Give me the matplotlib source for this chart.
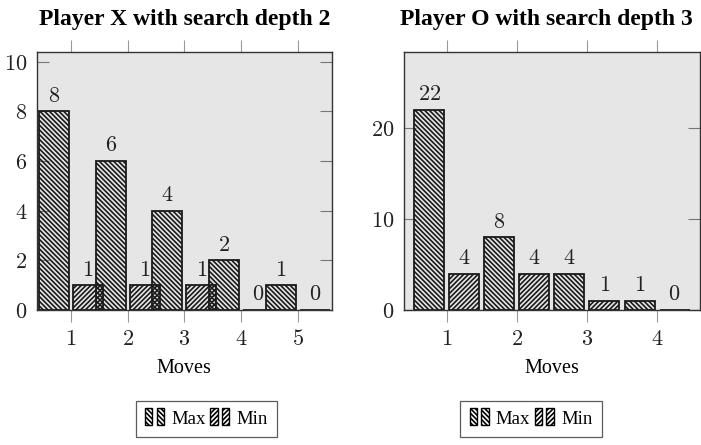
import matplotlib
matplotlib.use("Agg")
import matplotlib.pyplot as plt
from matplotlib.patches import Rectangle
from matplotlib.legend_handler import HandlerBase
from matplotlib.ticker import FuncFormatter
from matplotlib.container import BarContainer

# ---- data ----
moves_x = [1, 2, 3, 4, 5]
max_x = [8, 6, 4, 2, 1]
min_x = [1, 1, 1, 0, 0]

moves_o = [1, 2, 3, 4]
max_o = [22, 8, 4, 1]
min_o = [4, 4, 1, 0]

titles = ["Player X with search depth 2", "Player O with search depth 3"]
xlabel = "Moves"
series_names = ["Max", "Min"]

plt.rcParams['mathtext.fontset'] = 'cm'
plt.rcParams['hatch.linewidth'] = 1.2
plt.rcParams['hatch.color'] = '#222222'

fig = plt.figure(figsize=(7.01, 4.45), dpi=100)
H = 445.0
W = 701.0
ax_bottom = 1 - 310 / H
ax_h = (310 - 51.7) / H
axL = fig.add_axes([36.7 / W, ax_bottom, (332 - 36.7) / W, ax_h])
axR = fig.add_axes([404.3 / W, ax_bottom, (699.5 - 404.3) / W, ax_h])

BG = '#e6e6e6'
HATCH_MAX = '\\' * 7
HATCH_MIN = '/' * 7


class TwoBarHandler(HandlerBase):
    def create_artists(self, legend, orig_handle, xdescent, ydescent,
                       width, height, fontsize, trans):
        patch = orig_handle.patches[0]
        hatch = patch.get_hatch()
        arts = []
        w = width * 0.36
        for x0 in (0.0, width * 0.56):
            r = Rectangle((x0 - xdescent, -ydescent - height * 0.1), w, height * 1.25,
                          facecolor='none', edgecolor='black', hatch=hatch,
                          lw=1.0, transform=trans)
            arts.append(r)
        return arts


def draw_all():
    for ax, moves, vmax, vmin, shift, width, ylim, yticks, title, tx, lc in (
        (axL, moves_x, max_x, min_x, 0.30, 0.528, (0, 10.4), [0, 2, 4, 6, 8, 10], titles[0], 0.5, (206.5, 419)),
        (axR, moves_o, max_o, min_o, 0.25, 0.428, (0, 28.4), [0, 10, 20], titles[1], 0.48, (531, 419)),
    ):
        ax.set_facecolor(BG)
        xs_max = [m - shift for m in moves]
        xs_min = [m + shift for m in moves]
        b1 = ax.bar(xs_max, vmax, width, facecolor='none', edgecolor='#1a1a1a',
                    hatch=HATCH_MAX, lw=1.3, zorder=2)
        b2 = ax.bar(xs_min, vmin, width, facecolor='none', edgecolor='#1a1a1a',
                    hatch=HATCH_MIN, lw=1.3, zorder=2)
        for xs, vs in ((xs_max, vmax), (xs_min, vmin)):
            for x, v in zip(xs, vs):
                ax.annotate(f"${v}$", (x, v), xytext=(0, 4), textcoords='offset points',
                            ha='center', va='bottom', fontsize=16, color='#222222')
        ax.set_xlim(moves[0] - 0.605, moves[-1] + 0.605)
        ax.set_ylim(*ylim)
        ax.set_xticks(moves)
        ax.set_yticks(yticks)
        fmt = FuncFormatter(lambda v, p: f"${int(v)}$")
        ax.xaxis.set_major_formatter(fmt)
        ax.yaxis.set_major_formatter(fmt)
        ax.tick_params(axis='x', direction='out', top=True, bottom=True, length=8.6,
                       width=0.8, color='#999999', labelsize=16, pad=5, labelcolor='#222222')
        ax.tick_params(axis='y', direction='in', left=True, right=True, length=8.4,
                       width=0.8, color='#777777', labelsize=16, pad=7, labelcolor='#222222')
        for s in ax.spines.values():
            s.set_color('#333333')
            s.set_linewidth(1.0)
        t = ax.set_title(title, fontsize=17, fontweight='bold', family='Liberation Serif', pad=19)
        t.set_x(tx)
        ax.set_xlabel(xlabel, fontsize=14.5, family='Liberation Serif', labelpad=7)
        leg = fig.legend(handles=[b1, b2], labels=series_names, loc='center',
                         bbox_to_anchor=(lc[0] / W, 1 - lc[1] / H),
                         ncol=2, handler_map={BarContainer: TwoBarHandler()},
                         prop={'family': 'Liberation Serif', 'size': 13.5},
                         frameon=True, fancybox=False, edgecolor='#333333',
                         handlelength=1.1, handletextpad=0.3, columnspacing=0.25,
                         borderpad=0.5, borderaxespad=0)
        leg.get_frame().set_linewidth(0.9)


draw_all()
fig.savefig("out.png", dpi=100)
